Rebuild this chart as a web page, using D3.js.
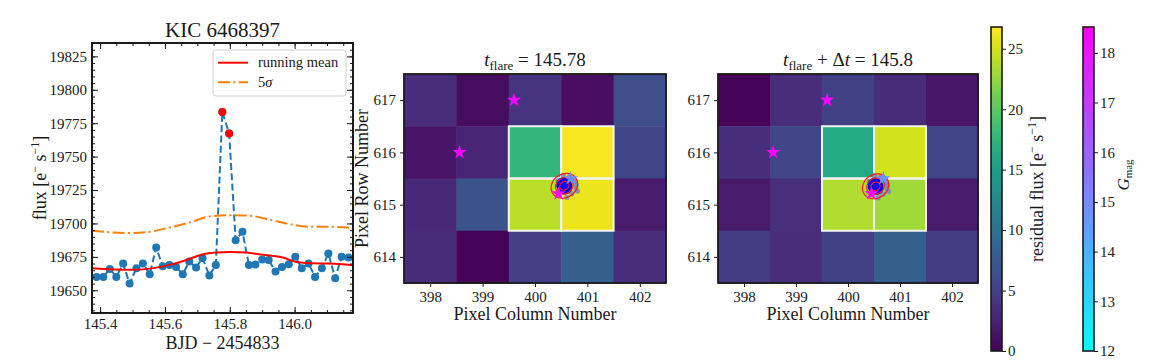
<!DOCTYPE html>
<html>
<head>
<meta charset="utf-8">
<script src="https://cdn.jsdelivr.net/npm/d3@7"></script>
<style>
  body { margin: 0; background: #fff; }
  svg text { font-family: "Liberation Serif", "DejaVu Serif", serif; fill: #1a1a1a; }
</style>
</head>
<body>
<svg id="chart" width="1152" height="360"></svg>
<script>
"use strict";

// ---------------------------------------------------------------------------
// Data
// ---------------------------------------------------------------------------

// light curve (long cadence), BJD - 2454833
const cadenceTime = [
  145.389, 145.410, 145.430, 145.450, 145.471, 145.491, 145.512, 145.532,
  145.553, 145.573, 145.593, 145.614, 145.634, 145.655, 145.675, 145.696,
  145.716, 145.737, 145.757, 145.777, 145.798, 145.818, 145.839, 145.859,
  145.879, 145.900, 145.920, 145.941, 145.961, 145.982, 146.002, 146.022,
  146.043, 146.063, 146.084, 146.104, 146.125, 146.145, 146.166, 146.186,
];
const cadenceFlux = [
  19660, 19660, 19666, 19660, 19670, 19655, 19666.5, 19670,
  19662, 19682, 19668, 19669, 19667.5, 19662, 19671.5, 19667,
  19674, 19661, 19669, 19783.3, 19767.3, 19687.5, 19693.7, 19669,
  19669.3, 19673, 19672.7, 19664, 19667.5, 19669.5, 19675, 19666.5,
  19670, 19660, 19666.5, 19677.5, 19659, 19675, 19674.5, 19674,
];
const flareTime = [145.777, 145.798];
const flareFlux = [19783.3, 19767.3];

const meanTime = [145.375, 145.492, 145.554, 145.615, 145.667, 145.718, 145.759,
  145.800, 145.851, 145.903, 145.964, 146.005, 146.056, 146.108, 146.180];
const meanFlux = [19666.5, 19665.3, 19666.2, 19669, 19672.7, 19677, 19678.3,
  19678.7, 19678.2, 19676.5, 19674.5, 19671.2, 19670.2, 19670, 19668.8];

const sigmaTime = [145.375, 145.492, 145.554, 145.615, 145.677, 145.738, 145.800,
  145.862, 145.923, 145.985, 146.046, 146.108, 146.180];
const sigmaFlux = [19694.5, 19692.8, 19693.8, 19697, 19700.8, 19705.2, 19706.2,
  19705.8, 19702.8, 19699.5, 19697.5, 19697.5, 19696.5];

const fluxTicks = [19650, 19675, 19700, 19725, 19750, 19775, 19800, 19825];
const timeTicks = [145.4, 145.6, 145.8, 146.0];

// target pixel file cutout, rows listed top to bottom
const pixelCols = [398, 399, 400, 401, 402];
const pixelRows = [617, 616, 615, 614];
const fluxAtFlare = [
  [3.4, 0.9, 4.0, 1.0, 6.3],
  [1.4, 2.8, 17.6, 26.5, 5.6],
  [3.0, 6.8, 24.0, 26.0, 1.9],
  [3.3, 0.3, 4.9, 8.0, 3.5],
];
const fluxAfterFlare = [
  [0.3, 3.4, 5.2, 3.3, 1.6],
  [3.5, 5.6, 16.2, 25.0, 5.6],
  [1.9, 3.6, 23.6, 23.0, 1.9],
  [4.7, 3.4, 5.1, 8.0, 4.7],
];
const apertureCols = [400, 401];
const apertureRows = [616, 615];

// Gaia sources
const starCol = [399.6, 398.56, 400.45, 400.68];
const starRow = [617.0, 616.0, 615.21, 615.5];
const starGmag = [18.4, 18.4, 18.3, 14.9];

// flare centroid and its spread, in pixels
const centroidCol = [400.56, 400.53];
const centroidRow = [615.36, 615.35];
const contourRadius = [0.085, 0.165, 0.245];
const spreadDx = [0.2, 0.22, 0.14, 0.25, 0.05, -0.12, 0.1, 0.18, -0.02, 0.23];
const spreadDy = [0.08, -0.05, -0.15, -0.1, -0.22, 0.1, 0.18, 0.14, 0.2, 0.02];

const residualTicks = [0, 5, 10, 15, 20, 25];
const gmagTicks = [12, 13, 14, 15, 16, 17, 18];

// ---------------------------------------------------------------------------
// Helpers
// ---------------------------------------------------------------------------

const svg = d3.select("#chart");
const defs = svg.append("defs");
const INK = "#1a1a1a";
const TICK_FONT = 15;

const fluxColor = d3.scaleSequential(d3.interpolateViridis).domain([0, 26.8]);
const gmagColor = d3.scaleSequential(d3.interpolateRgb("#00ffff", "#ff00ff")).domain([12, 18.52]);

function styleAxis(g, fontSize) {
  g.select(".domain").remove();
  g.selectAll("line").attr("stroke", INK).attr("stroke-width", 1);
  g.selectAll("text").attr("font-size", fontSize).attr("fill", INK)
    .style("font-family", '"Liberation Serif", "DejaVu Serif", serif');
  return g;
}

// text like "flux [e⁻ s⁻¹]" with raised parts
function unitTspans(textSel, base) {
  textSel.append("tspan").text(base + "[e");
  textSel.append("tspan").attr("dy", -7).attr("font-size", 12).text("−");
  textSel.append("tspan").attr("dy", 7).text(" s");
  textSel.append("tspan").attr("dy", -7).attr("font-size", 12).text("−1");
  textSel.append("tspan").attr("dy", 7).text("]");
}

// ---------------------------------------------------------------------------
// Light curve panel
// ---------------------------------------------------------------------------

const lc = { left: 92, right: 353, top: 43, bottom: 313 };
const xTime = d3.scaleLinear().domain([145.375, 146.18]).range([lc.left, lc.right]);
const yFlux = d3.scaleLinear().domain([19633, 19835]).range([lc.bottom, lc.top]);

defs.append("clipPath").attr("id", "lc-clip")
  .append("rect")
  .attr("x", lc.left).attr("y", lc.top)
  .attr("width", lc.right - lc.left).attr("height", lc.bottom - lc.top);

const lcPlot = svg.append("g").attr("clip-path", "url(#lc-clip)");

lcPlot.append("path")
  .attr("d", d3.line().x((d, i) => xTime(cadenceTime[i])).y((d) => yFlux(d))(cadenceFlux))
  .attr("fill", "none")
  .attr("stroke", "#1f77b4")
  .attr("stroke-width", 2)
  .attr("stroke-dasharray", "7,3.3");

lcPlot.selectAll("circle.cad")
  .data(cadenceFlux)
  .join("circle")
  .attr("class", "cad")
  .attr("cx", (d, i) => xTime(cadenceTime[i]))
  .attr("cy", (d) => yFlux(d))
  .attr("r", 4)
  .attr("fill", "#1f77b4");

lcPlot.selectAll("circle.flare")
  .data(flareFlux)
  .join("circle")
  .attr("class", "flare")
  .attr("cx", (d, i) => xTime(flareTime[i]))
  .attr("cy", (d) => yFlux(d))
  .attr("r", 4)
  .attr("fill", "#ff0000");

lcPlot.append("path")
  .attr("d", d3.line().curve(d3.curveMonotoneX)
    .x((d, i) => xTime(meanTime[i])).y((d) => yFlux(d))(meanFlux))
  .attr("fill", "none")
  .attr("stroke", "#ff0000")
  .attr("stroke-width", 2);

lcPlot.append("path")
  .attr("d", d3.line().curve(d3.curveMonotoneX)
    .x((d, i) => xTime(sigmaTime[i])).y((d) => yFlux(d))(sigmaFlux))
  .attr("fill", "none")
  .attr("stroke", "#ff7f0e")
  .attr("stroke-width", 2)
  .attr("stroke-dasharray", "12,3.3,2.1,3.3");

// ticks point inward on all four sides
const minorTime = d3.range(145.4, 146.2, 0.05);
const minorFlux = d3.range(19635, 19836, 5);

styleAxis(svg.append("g").attr("transform", `translate(0,${lc.bottom})`)
  .call(d3.axisBottom(xTime).tickValues(timeTicks).tickFormat(d3.format(".1f"))
    .tickSize(-6).tickPadding(5)), TICK_FONT);
styleAxis(svg.append("g").attr("transform", `translate(0,${lc.bottom})`)
  .call(d3.axisBottom(xTime).tickValues(minorTime).tickFormat("").tickSize(-3)), TICK_FONT);
styleAxis(svg.append("g").attr("transform", `translate(0,${lc.top})`)
  .call(d3.axisTop(xTime).tickValues(timeTicks).tickFormat("").tickSize(-6)), TICK_FONT);
styleAxis(svg.append("g").attr("transform", `translate(0,${lc.top})`)
  .call(d3.axisTop(xTime).tickValues(minorTime).tickFormat("").tickSize(-3)), TICK_FONT);

styleAxis(svg.append("g").attr("transform", `translate(${lc.left},0)`)
  .call(d3.axisLeft(yFlux).tickValues(fluxTicks).tickFormat(d3.format("d"))
    .tickSize(-6).tickPadding(5)), TICK_FONT);
styleAxis(svg.append("g").attr("transform", `translate(${lc.left},0)`)
  .call(d3.axisLeft(yFlux).tickValues(minorFlux).tickFormat("").tickSize(-3)), TICK_FONT);
styleAxis(svg.append("g").attr("transform", `translate(${lc.right},0)`)
  .call(d3.axisRight(yFlux).tickValues(fluxTicks).tickFormat("").tickSize(-6)), TICK_FONT);
styleAxis(svg.append("g").attr("transform", `translate(${lc.right},0)`)
  .call(d3.axisRight(yFlux).tickValues(minorFlux).tickFormat("").tickSize(-3)), TICK_FONT);

svg.append("rect")
  .attr("x", lc.left).attr("y", lc.top)
  .attr("width", lc.right - lc.left).attr("height", lc.bottom - lc.top)
  .attr("fill", "none").attr("stroke", INK).attr("stroke-width", 2);

svg.append("text")
  .attr("x", (lc.left + lc.right) / 2).attr("y", 37)
  .attr("text-anchor", "middle").attr("font-size", 21)
  .text("KIC 6468397");

svg.append("text")
  .attr("x", (lc.left + lc.right) / 2).attr("y", 349)
  .attr("text-anchor", "middle").attr("font-size", 18)
  .text("BJD − 2454833");

unitTspans(svg.append("text")
  .attr("transform", `translate(46,${(lc.top + lc.bottom) / 2}) rotate(-90)`)
  .attr("text-anchor", "middle").attr("font-size", 18), "flux ");

// legend
const legend = svg.append("g").attr("transform", "translate(213,50)");
legend.append("rect")
  .attr("width", 133).attr("height", 46).attr("rx", 3)
  .attr("fill", "#fff").attr("fill-opacity", 0.85)
  .attr("stroke", "#d0d0d0");
legend.append("line").attr("x1", 5).attr("x2", 35).attr("y1", 12.7).attr("y2", 12.7)
  .attr("stroke", "#ff0000").attr("stroke-width", 2);
legend.append("text").attr("x", 45).attr("y", 17).attr("font-size", 14.5).text("running mean");
legend.append("line").attr("x1", 5).attr("x2", 35).attr("y1", 32.3).attr("y2", 32.3)
  .attr("stroke", "#ff7f0e").attr("stroke-width", 2)
  .attr("stroke-dasharray", "12,3.3,2.1,3.3");
const sigmaLabel = legend.append("text").attr("x", 45).attr("y", 37).attr("font-size", 14.5);
sigmaLabel.append("tspan").text("5");
sigmaLabel.append("tspan").attr("font-style", "italic").text("σ");

// ---------------------------------------------------------------------------
// Pixel panels
// ---------------------------------------------------------------------------

const starShape = d3.symbol().type(d3.symbolStar).size(62);

function drawPixelPanel(box, values, which) {
  const x = d3.scaleLinear().domain([397.5, 402.5]).range([box.left, box.right]);
  const y = d3.scaleLinear().domain([613.5, 617.5]).range([box.bottom, box.top]);
  const g = svg.append("g");

  const cells = [];
  pixelRows.forEach((row, i) => pixelCols.forEach((col, j) => {
    cells.push({ col, row, value: values[i][j] });
  }));

  g.selectAll("rect.cell")
    .data(cells)
    .join("rect")
    .attr("class", "cell")
    .attr("x", (d) => x(d.col - 0.5))
    .attr("y", (d) => y(d.row + 0.5))
    .attr("width", (d) => x(d.col + 0.5) - x(d.col - 0.5) + 0.5)
    .attr("height", (d) => y(d.row - 0.5) - y(d.row + 0.5) + 0.5)
    .attr("fill", (d) => fluxColor(d.value));

  // aperture mask
  const aperture = [];
  apertureRows.forEach((row) => apertureCols.forEach((col) => aperture.push({ col, row })));
  g.selectAll("rect.ap")
    .data(aperture)
    .join("rect")
    .attr("class", "ap")
    .attr("x", (d) => x(d.col - 0.5))
    .attr("y", (d) => y(d.row + 0.5))
    .attr("width", (d) => x(d.col + 0.5) - x(d.col - 0.5))
    .attr("height", (d) => y(d.row - 0.5) - y(d.row + 0.5))
    .attr("fill", "none")
    .attr("stroke", "#f4f4f4")
    .attr("stroke-width", 2);

  // centroid spread
  const cx = x(centroidCol[which]);
  const cy = y(centroidRow[which]);
  g.selectAll("circle.spread")
    .data(spreadDx)
    .join("circle")
    .attr("class", "spread")
    .attr("cx", (d) => x(centroidCol[which] + d))
    .attr("cy", (d, i) => y(centroidRow[which] + spreadDy[i]))
    .attr("r", 2.6)
    .attr("fill", "#6f84c4")
    .attr("fill-opacity", 0.8);

  const unitX = x(398) - x(397);
  const unitY = y(397) - y(398);
  g.append("ellipse")
    .attr("cx", cx).attr("cy", cy)
    .attr("rx", unitX * 0.15).attr("ry", unitY * 0.17)
    .attr("transform", `rotate(-35,${cx},${cy})`)
    .attr("fill", "#0000ff");

  g.selectAll("ellipse.contour")
    .data(contourRadius)
    .join("ellipse")
    .attr("class", "contour")
    .attr("cx", cx).attr("cy", cy)
    .attr("rx", (d) => unitX * d * 1.08)
    .attr("ry", (d) => unitY * d * 0.92)
    .attr("transform", `rotate(-35,${cx},${cy})`)
    .attr("fill", "none")
    .attr("stroke", "#ff1a1a")
    .attr("stroke-width", 1.2);

  g.selectAll("path.star")
    .data(starCol)
    .join("path")
    .attr("class", "star")
    .attr("d", starShape)
    .attr("transform", (d, i) => `translate(${x(d)},${y(starRow[i])})`)
    .attr("fill", (d, i) => gmagColor(starGmag[i]));

  styleAxis(svg.append("g").attr("transform", `translate(0,${box.bottom})`)
    .call(d3.axisBottom(x).tickValues(pixelCols).tickFormat(d3.format("d"))
      .tickSize(4).tickPadding(4)), TICK_FONT);
  styleAxis(svg.append("g").attr("transform", `translate(${box.left},0)`)
    .call(d3.axisLeft(y).tickValues(pixelRows).tickFormat(d3.format("d"))
      .tickSize(4).tickPadding(4)), TICK_FONT);

  svg.append("rect")
    .attr("x", box.left).attr("y", box.top)
    .attr("width", box.right - box.left).attr("height", box.bottom - box.top)
    .attr("fill", "none").attr("stroke", INK).attr("stroke-width", 1.8);

  svg.append("text")
    .attr("x", (box.left + box.right) / 2).attr("y", 320)
    .attr("text-anchor", "middle").attr("font-size", 18)
    .text("Pixel Column Number");

  // title: t_flare = ... / t_flare + Δt = ...
  const title = svg.append("text")
    .attr("x", (box.left + box.right) / 2).attr("y", 66)
    .attr("text-anchor", "middle").attr("font-size", 19);
  title.append("tspan").attr("font-style", "italic").text("t");
  title.append("tspan").attr("dy", 4).attr("font-size", 13).text("flare");
  if (which === 0) {
    title.append("tspan").attr("dy", -4).text(" = 145.78");
  } else {
    title.append("tspan").attr("dy", -4).text(" + Δ");
    title.append("tspan").attr("font-style", "italic").text("t");
    title.append("tspan").text(" = 145.8");
  }
}

const panelPeak = { left: 404, right: 666, top: 74, bottom: 283 };
const panelAfter = { left: 718, right: 978, top: 74, bottom: 283 };
drawPixelPanel(panelPeak, fluxAtFlare, 0);
drawPixelPanel(panelAfter, fluxAfterFlare, 1);

svg.append("text")
  .attr("transform", `translate(368,${(panelPeak.top + panelPeak.bottom) / 2}) rotate(-90)`)
  .attr("text-anchor", "middle").attr("font-size", 18)
  .text("Pixel Row Number");

// ---------------------------------------------------------------------------
// Colour bars
// ---------------------------------------------------------------------------

function drawColorbar(box, scale, interp, ticks, id) {
  const grad = defs.append("linearGradient").attr("id", id)
    .attr("x1", 0).attr("y1", 1).attr("x2", 0).attr("y2", 0);
  d3.range(0, 1.0001, 0.05).forEach((t) => {
    grad.append("stop").attr("offset", t).attr("stop-color", interp(t));
  });
  svg.append("rect")
    .attr("x", box.left).attr("y", box.top)
    .attr("width", box.right - box.left).attr("height", box.bottom - box.top)
    .attr("fill", `url(#${id})`)
    .attr("stroke", INK).attr("stroke-width", 1.6);
  const y = d3.scaleLinear().domain(scale.domain()).range([box.bottom, box.top]);
  styleAxis(svg.append("g").attr("transform", `translate(${box.right},0)`)
    .call(d3.axisRight(y).tickValues(ticks).tickFormat(d3.format("d"))
      .tickSize(4).tickPadding(2)), TICK_FONT);
}

drawColorbar({ left: 991, right: 1002, top: 27, bottom: 351 },
  fluxColor, d3.interpolateViridis, residualTicks, "grad-flux");
drawColorbar({ left: 1083, right: 1094, top: 27, bottom: 351 },
  gmagColor, d3.interpolateRgb("#00ffff", "#ff00ff"), gmagTicks, "grad-gmag");

unitTspans(svg.append("text")
  .attr("transform", "translate(1043,189) rotate(-90)")
  .attr("text-anchor", "middle").attr("font-size", 18), "residual flux ");

const gmagLabel = svg.append("text")
  .attr("transform", "translate(1129,175) rotate(-90)")
  .attr("text-anchor", "middle").attr("font-size", 17);
gmagLabel.append("tspan").attr("font-style", "italic").text("G");
gmagLabel.append("tspan").attr("dy", 3).attr("font-size", 11).text("mag");
</script>
</body>
</html>
